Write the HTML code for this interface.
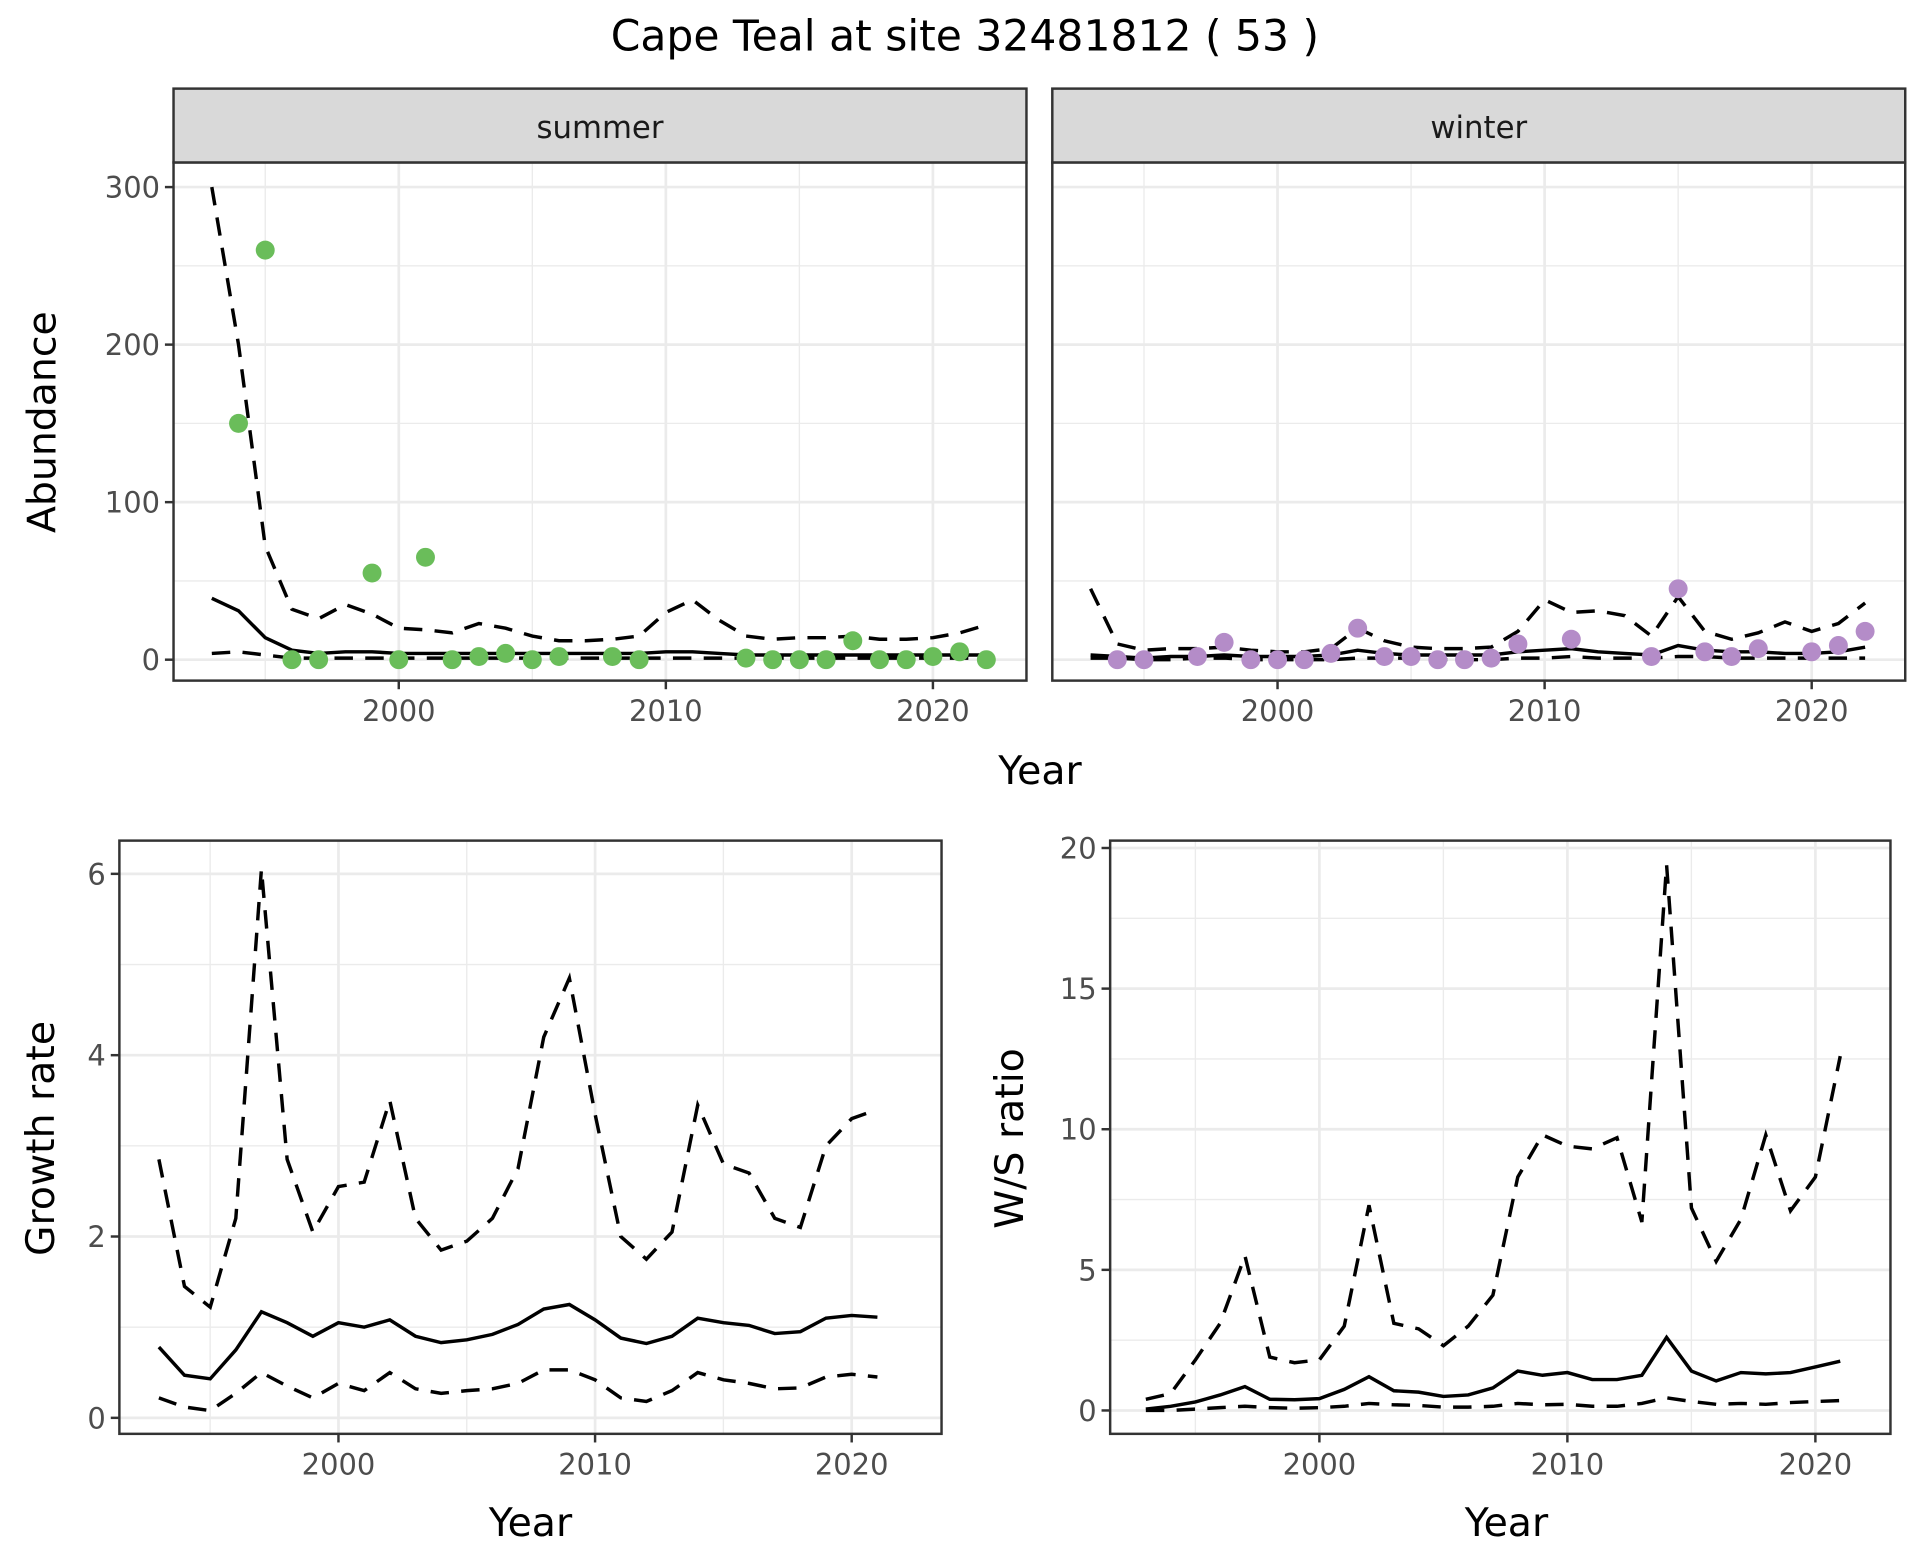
<!DOCTYPE html>
<html><head><meta charset="utf-8"><style>
html,body{margin:0;padding:0;background:#fff;}
svg{display:block;font-family:"DejaVu Sans","Liberation Sans",sans-serif;}
</style></head><body>
<svg id="c" width="1920" height="1560" viewBox="0 0 1560 1267.5"></svg>
<script>
const yearsFull=[1993,1994,1995,1996,1997,1998,1999,2000,2001,2002,2003,2004,2005,2006,2007,2008,2009,2010,2011,2012,2013,2014,2015,2016,2017,2018,2019,2020,2021,2022];
const summerPtYears=[1994,1995,1996,1997,1999,2000,2001,2002,2003,2004,2005,2006,2008,2009,2013,2014,2015,2016,2017,2018,2019,2020,2021,2022];
const summerPtVals=[150,260,0,0,55,0,65,0,2,4,0,2,2,0,1,0,0,0,12,0,0,2,5,0];
const summerUpper=[300,200,72,32,26,35,29,20,19,17,23,20,15,12,12,13,15,30,38,25,15,13,14,14,15,13,13,14,17,22];
const summerMid=[39,31,14,6,4,5,5,4,4,4,4,4,4,4,4,4,4,5,5,4,3,3,3,3,3,3,3,3,3,3];
const summerLower=[4,5,3,1,1,1,1,1,1,1,1,1,1,1,1,1,1,1,1,1,1,1,1,1,1,1,1,1,1,1];
const winterPtYears=[1994,1995,1997,1998,1999,2000,2001,2002,2003,2004,2005,2006,2007,2008,2009,2011,2014,2015,2016,2017,2018,2020,2021,2022];
const winterPtVals=[0,0,2,11,0,0,0,4,20,2,2,0,0,1,10,13,2,45,5,2,7,5,9,18];
const winterUpper=[45,10,6,7,7,8,6,5,5,7,20,12,8,7,7,8,18,38,30,31,28,15,40,18,13,17,24,18,23,36];
const winterMid=[3,2,1,2,2,3,2,2,2,3,6,4,3,3,3,3,5,6,7,5,4,3,9,6,5,5,4,4,5,8];
const winterLower=[1,1,0,0,1,1,0,0,0,0,1,1,1,0,0,0,1,1,2,1,1,1,2,2,1,1,1,1,1,1];
const yearsG=[1993,1994,1995,1996,1997,1998,1999,2000,2001,2002,2003,2004,2005,2006,2007,2008,2009,2010,2011,2012,2013,2014,2015,2016,2017,2018,2019,2020,2021];
const growthUpper=[2.85,1.45,1.22,2.2,6.05,2.85,2.05,2.55,2.6,3.5,2.2,1.85,1.95,2.2,2.75,4.2,4.85,3.35,2.0,1.75,2.05,3.45,2.8,2.7,2.2,2.1,3.0,3.3,3.4];
const growthMid=[0.78,0.47,0.43,0.75,1.17,1.05,0.9,1.05,1.0,1.08,0.9,0.83,0.86,0.92,1.03,1.2,1.25,1.08,0.88,0.82,0.9,1.1,1.05,1.02,0.93,0.95,1.1,1.13,1.11];
const growthLower=[0.22,0.12,0.08,0.27,0.5,0.35,0.22,0.38,0.3,0.5,0.32,0.27,0.3,0.32,0.38,0.53,0.53,0.42,0.22,0.18,0.3,0.5,0.42,0.38,0.32,0.33,0.45,0.48,0.45];
const wsUpper=[0.4,0.6,1.8,3.1,5.5,1.9,1.7,1.8,3.0,7.3,3.1,2.9,2.3,3.0,4.1,8.3,9.8,9.4,9.3,9.7,6.7,19.4,7.2,5.3,6.8,9.8,7.1,8.3,12.6];
const wsMid=[0.05,0.15,0.3,0.55,0.85,0.4,0.38,0.42,0.75,1.2,0.7,0.65,0.5,0.55,0.8,1.4,1.25,1.35,1.1,1.1,1.25,2.6,1.4,1.05,1.35,1.3,1.35,1.55,1.75];
const wsLower=[0,0,0.05,0.1,0.15,0.1,0.08,0.1,0.15,0.25,0.2,0.18,0.12,0.12,0.15,0.25,0.2,0.22,0.15,0.15,0.25,0.45,0.32,0.22,0.25,0.22,0.28,0.32,0.35];
const xTicks=[2000,2010,2020];
const xMinor=[1995,2005,2015];
const abTicks=[0,100,200,300];
const abMinor=[50,150,250];
const grTicks=[0,2,4,6];
const grMinor=[1,3,5];
const wsTicks=[0,5,10,15,20];
const wsMinor=[2.5,7.5,12.5,17.5];

const svg=document.getElementById('c');
const NS='http://www.w3.org/2000/svg';
function mk(tag,attrs,parent){const e=document.createElementNS(NS,tag);for(const k in attrs)e.setAttribute(k,attrs[k]);(parent||svg).appendChild(e);return e;}
function txt(s,attrs,parent){const e=mk('text',attrs,parent);e.textContent=s;return e;}

function panel(o){
  const g=mk('g',{});
  
  
  mk('rect',{x:o.x0,y:o.y0,width:o.x1-o.x0,height:o.y1-o.y0,fill:'#fff'},g);
  o.yMinor.forEach(v=>mk('line',{x1:o.x0,x2:o.x1,y1:o.ys(v),y2:o.ys(v),stroke:'#ebebeb','stroke-width':1.1},g));
  xMinor.forEach(v=>mk('line',{x1:o.xs(v),x2:o.xs(v),y1:o.y0,y2:o.y1,stroke:'#ebebeb','stroke-width':1.1},g));
  o.yTicks.forEach(v=>mk('line',{x1:o.x0,x2:o.x1,y1:o.ys(v),y2:o.ys(v),stroke:'#ebebeb','stroke-width':2.2},g));
  xTicks.forEach(v=>mk('line',{x1:o.xs(v),x2:o.xs(v),y1:o.y0,y2:o.y1,stroke:'#ebebeb','stroke-width':2.2},g));
  return g;
}
function frame(o,g){
  mk('rect',{x:o.x0,y:o.y0,width:o.x1-o.x0,height:o.y1-o.y0,fill:'none',stroke:'#333','stroke-width':2},g);
  xTicks.forEach(v=>{
    mk('line',{x1:o.xs(v),x2:o.xs(v),y1:o.y1,y2:o.y1+7,stroke:'#333','stroke-width':2},g);
    const t=txt(String(v),{x:o.xs(v),y:o.y1+33,'font-size':23.5,fill:'#4d4d4d','text-anchor':'middle'},g);
    
  });
  if(o.showY) o.yTicks.forEach(v=>{
    mk('line',{x1:o.x0-7,x2:o.x0,y1:o.ys(v),y2:o.ys(v),stroke:'#333','stroke-width':2},g);
    const t=txt(String(v),{x:o.x0-11,y:o.ys(v)+8.5,'font-size':23.5,fill:'#4d4d4d','text-anchor':'end'},g);
    
  });
}
function line(o,g,years,vals,dashed,name){
  const d=years.map((y,i)=>(i?'L':'M')+o.xs(y).toFixed(1)+','+o.ys(vals[i]).toFixed(1)).join('');
  const p=mk('path',{d:d,fill:'none',stroke:'#000','stroke-width':2.8,'stroke-dasharray':dashed?'15,10':'none'},g);
  
}
function pts(o,g,years,vals,col,name){
  years.forEach((y,i)=>{
    const c=mk('circle',{cx:o.xs(y),cy:o.ys(vals[i]),r:7.7,fill:col},g);
    
  });
}
function lin(a0,p0,a1,p1){return v=>p0+(v-a0)*(p1-p0)/(a1-a0);}

const ti=txt('Cape Teal at site 32481812 ( 53 )',{x:784,y:41,'font-size':34.5,'text-anchor':'middle',fill:'#000'});


const abY=lin(0,536,300,152);
const S={x0:141,x1:834,y0:132,y1:553,xs:lin(2000,324,2020,758),ys:abY,yTicks:abTicks,yMinor:abMinor,showY:true,name:'summer-panel'};
let g=panel(S);
line(S,g,yearsFull,summerUpper,true,'summer-upper-ci');
line(S,g,yearsFull,summerLower,true,'summer-lower-ci');
line(S,g,yearsFull,summerMid,false,'summer-estimate');
pts(S,g,summerPtYears,summerPtVals,'#6abd5a','summer-count-point');
frame(S,g);
const W={x0:855,x1:1548,y0:132,y1:553,xs:lin(2000,1038,2020,1472),ys:abY,yTicks:abTicks,yMinor:abMinor,showY:false,name:'winter-panel'};
g=panel(W);
line(W,g,yearsFull,winterUpper,true,'winter-upper-ci');
line(W,g,yearsFull,winterLower,true,'winter-lower-ci');
line(W,g,yearsFull,winterMid,false,'winter-estimate');
pts(W,g,winterPtYears,winterPtVals,'#b48cc8','winter-count-point');
frame(W,g);
[[S,'summer'],[W,'winter']].forEach(([o,l])=>{
  const r=mk('rect',{x:o.x0,y:72,width:o.x1-o.x0,height:60,fill:'#d9d9d9',stroke:'#333','stroke-width':2});
  
  const t=txt(l,{x:(o.x0+o.x1)/2,y:112,'font-size':25,fill:'#1a1a1a','text-anchor':'middle'});
  
});
let t=txt('Year',{x:845,y:637,'font-size':32,'text-anchor':'middle'});

t=txt('Abundance',{x:0,y:0,'font-size':32,'text-anchor':'middle',transform:'translate(45,343) rotate(-90)'});


const G={x0:97,x1:765,y0:683,y1:1165,xs:lin(2000,275,2020,692),ys:lin(0,1152,6,710),yTicks:grTicks,yMinor:grMinor,showY:true,name:'growth-panel'};
g=panel(G);
line(G,g,yearsG,growthUpper,true,'growth-upper-ci');
line(G,g,yearsG,growthLower,true,'growth-lower-ci');
line(G,g,yearsG,growthMid,false,'growth-estimate');
frame(G,g);
t=txt('Year',{x:431,y:1248,'font-size':32,'text-anchor':'middle'});

t=txt('Growth rate',{x:0,y:0,'font-size':32,'text-anchor':'middle',transform:'translate(44,925) rotate(-90)'});


const R={x0:902,x1:1536,y0:683,y1:1165,xs:lin(2000,1072,2020,1475),ys:lin(0,1146,20,689),yTicks:wsTicks,yMinor:wsMinor,showY:true,name:'ws-ratio-panel'};
g=panel(R);
line(R,g,yearsG,wsUpper,true,'ws-upper-ci');
line(R,g,yearsG,wsLower,true,'ws-lower-ci');
line(R,g,yearsG,wsMid,false,'ws-estimate');
frame(R,g);
t=txt('Year',{x:1224,y:1248,'font-size':32,'text-anchor':'middle'});

t=txt('W/S ratio',{x:0,y:0,'font-size':32,'text-anchor':'middle',transform:'translate(831,925) rotate(-90)'});

</script>
</body></html>
